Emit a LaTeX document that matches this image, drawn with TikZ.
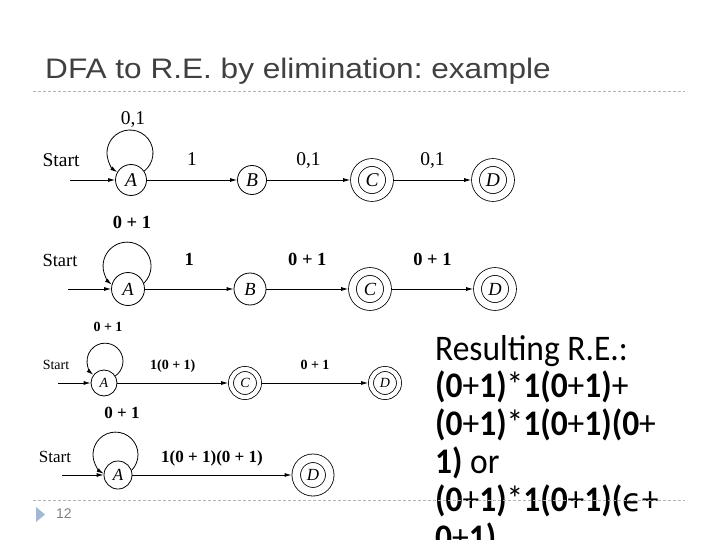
\documentclass[tikz,border=0pt]{standalone}
\usepackage{fontspec}
\setmainfont{Liberation Serif}
\newfontfamily\titlefont[FakeStretch=1.12]{Liberation Sans}
\newfontfamily\numfont{Liberation Sans}
\newfontfamily\bodyfont[FakeStretch=0.93]{Carlito}
\newfontfamily\symfont{DejaVu Sans}
\usetikzlibrary{arrows.meta}
\frenchspacing

\definecolor{titlegray}{HTML}{404040}
\definecolor{rulegray}{HTML}{B4B4B4}
\definecolor{bulletblue}{HTML}{A3B8D2}
\newcommand{\bo}[1]{\textbf{#1}}

\begin{document}
\begin{tikzpicture}[x=1pt,y=-1pt,
    >={Latex[length=7pt,width=4pt]},
    st/.style={circle,draw,line width=0.8pt,inner sep=0pt,minimum size=#1,font=\itshape},
    acc/.style 2 args={st=#1,double,double distance=#2,outer sep=#2/2+0.8pt},
    edge/.style={->,line width=0.8pt},
    elbl/.style={anchor=base,inner sep=0pt,yshift=#1},
    rule/.style={draw=rulegray,line width=0.7pt,dash pattern=on 3pt off 2pt}]
    \useasboundingbox (0,0) rectangle (720,540);
    \clip (0,0) rectangle (720,540);

    % Titel
    \node[anchor=base west,inner sep=0pt,text=titlegray,
      font=\titlefont\fontsize{28.2}{32}\selectfont] (title) at (45,78.5)
      {DFA to R.E. by elimination: example};
    \draw[rule] (33,91) -- (685,91);

    % Automat 1
    \begin{scope}[node font=\fontsize{19.5}{22}\selectfont]
    \node[st=31pt] (A1) at (131,180) {A};
    \node[st=29pt] (B1) at (252,180) {B};
    \node[acc={35pt}{7pt}] (C1) at (372,180) {C};
    \node[acc={35pt}{7pt}] (D1) at (493,180) {D};
    \node (s1) at (61,160) {Start};
    \node[anchor=base] (l1) at (133,125) {0,1};
    \coordinate (i1) at (70,180);
    \draw[edge] (i1) -- (A1);
    \draw[edge] (A1.34) arc[start angle=51.9,end angle=-236.2,radius=23];
    \draw[edge] (A1) -- node[elbl=14pt] {1} (B1);
    \draw[edge] (B1) -- node[elbl=14pt] {0,1} (C1);
    \draw[edge] (C1) -- node[elbl=14pt] {0,1} (D1);
    \end{scope}

    % Automat 2
    \begin{scope}[node font=\fontsize{18.5}{22}\selectfont]
    \node[st=33pt] (A2) at (128,289) {A};
    \node[st=32pt] (B2) at (250,289) {B};
    \node[acc={35pt}{7pt}] (C2) at (370,289) {C};
    \node[acc={35pt}{7pt}] (D2) at (495,289) {D};
    \node (s2) at (60,260) {Start};
    \node[anchor=base,font=\bfseries] (l2) at (132,228.3) {0 + 1};
    \coordinate (i2) at (68,289);
    \draw[edge] (i2) -- (A2);
    \draw[edge] (A2.20.5) arc[start angle=45.5,end angle=-230.4,radius=24];
    \draw[edge] (A2) -- node[elbl=24pt] {\bfseries 1} (B2);
    \draw[edge] (B2) -- node[elbl=24pt] {\bfseries 0 + 1} (C2);
    \draw[edge] (C2) -- node[elbl=24pt] {\bfseries 0 + 1} (D2);
    \end{scope}

    % Automat 3 (B eliminiert)
    \begin{scope}[node font=\fontsize{14}{17}\selectfont]
    \node[st=26pt] (A3) at (104,383) {A};
    \node[acc={28pt}{4.2pt}] (C3) at (245,383) {C};
    \node[acc={28pt}{4.2pt}] (D3) at (385,383) {D};
    \node (s3) at (56,365) {Start};
    \node[anchor=base,font=\bfseries] (l3) at (108,331.7) {0 + 1};
    \coordinate (i3) at (58,383);
    \draw[edge] (i3) -- (A3);
    \draw[edge] (A3.32.7) arc[start angle=54.8,end angle=-229.6,radius=18];
    \draw[edge] (A3) -- node[elbl=14pt] {\bfseries 1(0 + 1)} (C3);
    \draw[edge] (C3) -- node[elbl=14pt] {\bfseries 0 + 1} (D3);
    \end{scope}

    % Automat 4 (C eliminiert)
    \begin{scope}[node font=\fontsize{17}{20}\selectfont]
    \node[st=28pt] (A4) at (118,475) {A};
    \node[acc={33.5pt}{7.7pt}] (D4) at (313,475) {D};
    \node (s4) at (55,457) {Start};
    \node[anchor=base,font=\bfseries] (l4) at (122,418.3) {0 + 1};
    \coordinate (i4) at (62,475);
    \draw[edge] (i4) -- (A4);
    \draw[edge] (A4.19.4) arc[start angle=44.3,end angle=-238.1,radius=22.5];
    \draw[edge] (A4) -- node[elbl=12.5pt] {\bfseries 1(0 + 1)(0 + 1)} (D4);
    \end{scope}

    % Ergebnis
    \node[anchor=base west,inner sep=0pt,align=left,
      font=\bodyfont\fontsize{36}{37.8}\selectfont] (res) at (435,549)
      {Resulting R.E.:\\
       \bo{(0}+\bo{1)}*\bo{1(0}+\bo{1)}+\\
       \bo{(0}+\bo{1)}*\bo{1(0}+\bo{1)(0}+\\
       \bo{1)} or\\
       \bo{(0}+\bo{1)}*\bo{1(0}+\bo{1)(}{\symfont\fontsize{32}{32}\selectfont ϵ}+\\
       \bo{0}+\bo{1)}};
    \draw[rule] (33,500) -- (685,500);

    % Foliennummer
    \fill[bulletblue] (36,507) -- (45,514.5) -- (36,522) -- cycle;
    \node[anchor=base west,inner sep=0pt,text=gray,
      font=\numfont\fontsize{14}{16}\selectfont] (num) at (56,518.5) {12};
\end{tikzpicture}
\end{document}
